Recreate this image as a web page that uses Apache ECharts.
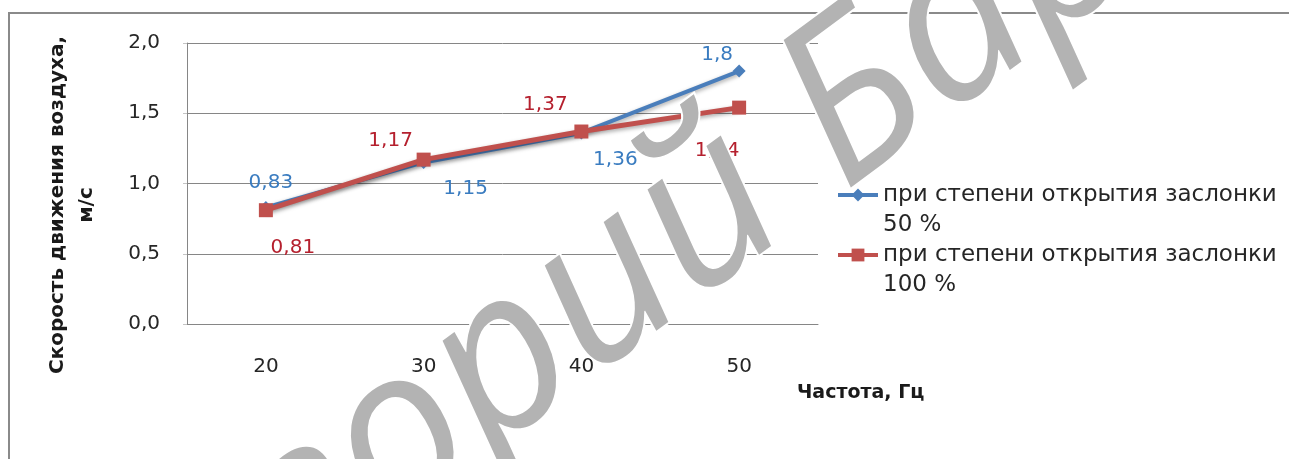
<!DOCTYPE html>
<html>
<head>
<meta charset="utf-8">
<script src="https://cdn.jsdelivr.net/npm/echarts@6/dist/echarts.min.js"></script>
<style>
  html, body { margin: 0; padding: 0; background: #fff; }
  #chart { width: 1289px; height: 459px; }
</style>
</head>
<body>
<div id="chart"></div>
<script>
// Частота (Гц) и скорость движения воздуха (м/с)
const frequencies = ['20', '30', '40', '50'];
const speedHalfOpen = [0.83, 1.15, 1.36, 1.8];   // заслонка открыта на 50 %
const speedFullOpen = [0.81, 1.17, 1.37, 1.54];  // заслонка открыта на 100 %
const seriesNames = [
  'при степени открытия заслонки\n50 %',
  'при степени открытия заслонки\n100 %'
];
const yTickLabels = ['0,0', '0,5', '1,0', '1,5', '2,0'];

// label placement around each point (pixels from the marker centre)
const halfOpenLabelShift = [[5, -25], [42, 26], [34, 27], [-22, -16]];
const fullOpenLabelShift = [[27, 38], [-33, -19], [-36, -27], [-22, 43]];

const FONT = '"DejaVu Sans", sans-serif';
const BLUE = '#4a7ebb';
const RED = '#c0504d';
const GRID = '#868686';

const fmt = v => String(v).replace('.', ',');

function points(values, shifts) {
  return values.map((v, i) => ({
    value: v,
    label: { offset: shifts[i] }
  }));
}

const chart = echarts.init(document.getElementById('chart'), null, { renderer: 'canvas' });

chart.setOption({
  animation: false,
  backgroundColor: '#fff',
  grid: { left: 187, top: 43, right: 471, bottom: 135, containLabel: false },
  xAxis: {
    type: 'category',
    data: frequencies,
    boundaryGap: true,
    axisLine: { show: true, lineStyle: { color: GRID, width: 1 } },
    axisTick: { show: false },
    axisLabel: { color: '#262626', fontFamily: FONT, fontSize: 20, margin: 33 }
  },
  yAxis: {
    type: 'value',
    min: 0, max: 2, interval: 0.5,
    axisLine: { show: true, lineStyle: { color: GRID, width: 1 } },
    axisTick: { show: true, length: 4, lineStyle: { color: '#c4c4c4' } },
    splitLine: { show: true, lineStyle: { color: GRID, width: 1 } },
    axisLabel: {
      color: '#262626', fontFamily: FONT, fontSize: 20, margin: 27,
      formatter: v => yTickLabels[Math.round(v / 0.5)]
    }
  },
  legend: {
    orient: 'vertical',
    left: 836, top: 150,
    padding: 0,
    itemGap: -30,
    itemWidth: 40, itemHeight: 16,
    lineStyle: { width: 4 },
    formatter: name => '\n' + name,
    textStyle: {
      color: '#262626', fontFamily: FONT, fontSize: 23, lineHeight: 30
    },
    data: seriesNames
  },
  series: [
    {
      name: seriesNames[0],
      type: 'line',
      data: points(speedHalfOpen, halfOpenLabelShift),
      symbol: 'diamond', symbolSize: 13,
      itemStyle: { color: BLUE },
      lineStyle: { color: BLUE, width: 4, shadowColor: 'rgba(0,0,0,0.35)', shadowBlur: 4, shadowOffsetY: 2 },
      label: {
        show: true, position: 'inside', color: '#3a7cc0',
        fontFamily: FONT, fontSize: 20,
        formatter: p => fmt(p.value)
      },
      z: 2
    },
    {
      name: seriesNames[1],
      type: 'line',
      data: points(speedFullOpen, fullOpenLabelShift),
      symbol: 'rect', symbolSize: 14,
      itemStyle: { color: RED },
      lineStyle: { color: RED, width: 5, shadowColor: 'rgba(0,0,0,0.35)', shadowBlur: 4, shadowOffsetY: 2 },
      label: {
        show: true, position: 'inside', color: '#b5202e',
        fontFamily: FONT, fontSize: 20,
        formatter: p => fmt(p.value)
      },
      z: 3
    }
  ],
  graphic: [
    {
      type: 'rect', silent: true, z: -1,
      shape: { x: 9, y: 13, width: 1400, height: 500 },
      style: { fill: 'none', stroke: '#8a8a8a', lineWidth: 2 }
    },
    {
      type: 'text', silent: true,
      x: 797, y: 393,
      style: {
        text: 'Частота, Гц', fill: '#1a1a1a',
        font: 'bold 19px "DejaVu Sans", sans-serif',
        textAlign: 'left', textVerticalAlign: 'middle'
      }
    },
    {
      type: 'text', silent: true,
      x: 72, y: 205, rotation: Math.PI / 2,
      style: {
        text: 'Скорость движения воздуха,\nм/с', fill: '#1a1a1a',
        font: 'bold 20px "DejaVu Sans", sans-serif', lineHeight: 29,
        textAlign: 'center', textVerticalAlign: 'middle'
      }
    },
    {
      type: 'text', silent: true, z: 100,
      x: 1111, y: -83, rotation: 36.4 * Math.PI / 180,
      style: {
        text: 'Григорий Бар', fill: '#b3b3b3',
        stroke: '#ffffff', lineWidth: 4,
        font: 'italic 222px "Open Sans", sans-serif',
        textAlign: 'right', textVerticalAlign: 'middle'
      }
    }
  ]
});
</script>
</body>
</html>
